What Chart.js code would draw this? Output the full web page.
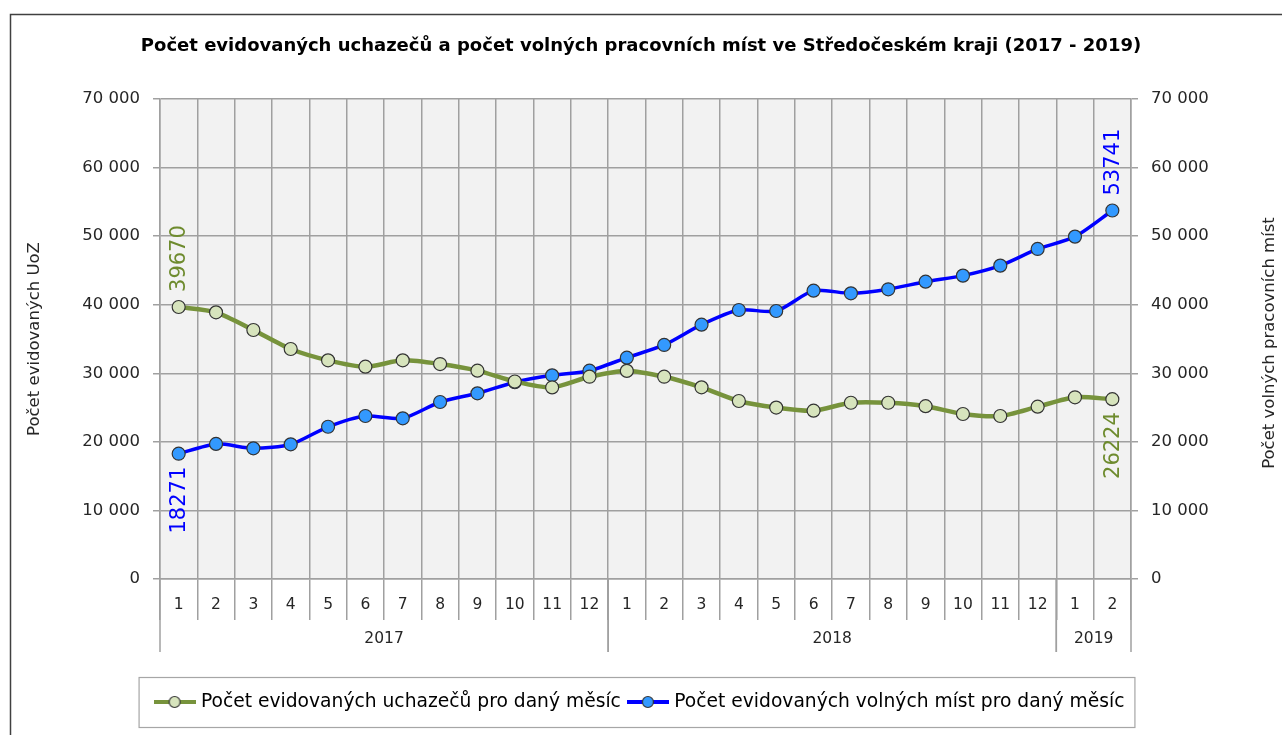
<!DOCTYPE html>
<html>
<head>
<meta charset="utf-8">
<script src="https://cdn.jsdelivr.net/npm/chart.js@4.4.0/dist/chart.umd.min.js"></script>
<style>
  html, body { margin: 0; padding: 0; background: #fff; }
  #wrap { width: 1282px; height: 735px; }
</style>
</head>
<body>
<div id="wrap"><canvas id="myChart" width="1282" height="735"></canvas></div>
<script>
// měsíce a roky (dvouúrovňová osa X)
var months = ['1','2','3','4','5','6','7','8','9','10','11','12',
              '1','2','3','4','5','6','7','8','9','10','11','12',
              '1','2'];
var years = ['2017', '2018', '2019'];
var yearSpans = [12, 12, 2];

// Počet evidovaných uchazečů
var uchazeci = [39670, 38890, 36310, 33540, 31890, 30960, 31890, 31350, 30380, 28800, 27940, 29500,
                30350, 29500, 27950, 25960, 25000, 24550, 25700, 25700, 25200, 24060, 23770, 25130,
                26500, 26224];
// Počet volných pracovních míst
var volnaMista = [18271, 19700, 19060, 19640, 22200, 23770, 23430, 25810, 27080, 28690, 29700, 30380,
                  32280, 34130, 37090, 39230, 39080, 42050, 41660, 42250, 43360, 44240, 45700, 48130,
                  49930, 53741];

var yTicks = [0, 10000, 20000, 30000, 40000, 50000, 60000, 70000];

var colorSet = {
	olive: '#77933c',
	oliveText: '#6e8b2e',
	oliveFill: '#d7e4bd',
	blue: '#0000ff',
	blueFill: '#3399ff',
	grid: '#a0a0a0',
	text: '#262626'
};

Chart.defaults.font.family = '"DejaVu Sans", Verdana, sans-serif';
Chart.defaults.color = colorSet.text;

function fmt(v) {
	return String(v).replace(/\B(?=(\d{3})+(?!\d))/g, ' ');
}

// značka do legendy: čára s kolečkem
function makeMarker(lineColor, fill) {
	var c = document.createElement('canvas');
	c.width = 42; c.height = 14;
	var g = c.getContext('2d');
	g.strokeStyle = lineColor;
	g.lineWidth = 4;
	g.beginPath(); g.moveTo(0, 7); g.lineTo(42, 7); g.stroke();
	g.beginPath(); g.arc(21, 7, 5.5, 0, Math.PI * 2);
	g.fillStyle = fill; g.fill();
	g.lineWidth = 1.2; g.strokeStyle = '#333'; g.stroke();
	return c;
}
var markers = [makeMarker(colorSet.olive, colorSet.oliveFill), makeMarker(colorSet.blue, colorSet.blueFill)];

var legendFont = 18.7;

// popisky krajních hodnot
var endLabels = [
	{ ds: 0, idx: 0, up: true, color: colorSet.oliveText },
	{ ds: 1, idx: 0, up: false, color: colorSet.blue },
	{ ds: 1, idx: volnaMista.length - 1, up: true, color: colorSet.blue },
	{ ds: 0, idx: uchazeci.length - 1, up: false, color: colorSet.oliveText }
];

var decorPlugin = {
	id: 'decor',
	beforeDraw: function(chart) {
		var ctx = chart.ctx, a = chart.chartArea;
		ctx.save();
		ctx.fillStyle = '#fff';
		ctx.fillRect(0, 0, chart.width, chart.height);
		ctx.strokeStyle = '#404040';
		ctx.lineWidth = 1.5;
		ctx.strokeRect(10.5, 14.5, 1400, 900);
		ctx.fillStyle = '#f2f2f2';
		ctx.fillRect(a.left, a.top, a.right - a.left, a.bottom - a.top);
		ctx.restore();
	},
	afterDraw: function(chart) {
		var ctx = chart.ctx, a = chart.chartArea, x = chart.scales.x;
		ctx.save();
		// roky pod osou
		ctx.strokeStyle = colorSet.grid;
		ctx.lineWidth = 1.5;
		ctx.fillStyle = colorSet.text;
		ctx.font = '15.5px "DejaVu Sans"';
		ctx.textAlign = 'center';
		ctx.textBaseline = 'middle';
		var start = 0;
		for (var i = 0; i < years.length; i++) {
			var end = start + yearSpans[i] - 1;
			var l = start === 0 ? a.left : (x.getPixelForValue(start - 1) + x.getPixelForValue(start)) / 2;
			var r = end === months.length - 1 ? a.right : (x.getPixelForValue(end) + x.getPixelForValue(end + 1)) / 2;
			ctx.beginPath(); ctx.moveTo(l, a.bottom); ctx.lineTo(l, a.bottom + 73); ctx.stroke();
			ctx.beginPath(); ctx.moveTo(r, a.bottom); ctx.lineTo(r, a.bottom + 73); ctx.stroke();
			ctx.fillText(years[i], (l + r) / 2, a.bottom + 60);
			start = end + 1;
		}
		// název pravé osy (čte se zdola nahoru)
		ctx.font = '16.5px "DejaVu Sans"';
		ctx.save();
		ctx.translate(1270, (a.top + a.bottom) / 2 + 4);
		ctx.rotate(-Math.PI / 2);
		ctx.fillText('Počet volných pracovních míst', 0, 0);
		ctx.restore();
		// rámeček legendy
		var hb = chart.legend.legendHitBoxes;
		if (hb && hb.length) {
			var last = hb[hb.length - 1];
			ctx.strokeStyle = '#a6a6a6';
			ctx.lineWidth = 1.2;
			var bx = hb[0].left - 19;
			var by = chart.legend.top + 10 + legendFont / 2 - 25;
			ctx.strokeRect(bx + 0.5, by + 0.5, last.left + last.width + 10 - bx, 50);
		}
		ctx.restore();
	},
	afterDatasetsDraw: function(chart) {
		var ctx = chart.ctx;
		ctx.save();
		ctx.font = '21px "DejaVu Sans"';
		ctx.textBaseline = 'middle';
		endLabels.forEach(function(lb) {
			var pt = chart.getDatasetMeta(lb.ds).data[lb.idx];
			var val = chart.data.datasets[lb.ds].data[lb.idx];
			ctx.save();
			ctx.translate(pt.x, pt.y);
			ctx.rotate(-Math.PI / 2);
			ctx.fillStyle = lb.color;
			if (lb.up) {
				ctx.textAlign = 'left';
				ctx.fillText(String(val), 15, 1);
			} else {
				ctx.textAlign = 'right';
				ctx.fillText(String(val), -13, 1);
			}
			ctx.restore();
		});
		ctx.restore();
	}
};

var ctx = document.getElementById('myChart').getContext('2d');
var myChart = new Chart(ctx, {
	type: 'line',
	data: {
		labels: months,
		datasets: [
			{
				label: 'Počet evidovaných uchazečů pro daný měsíc',
				data: uchazeci,
				yAxisID: 'y',
				borderColor: colorSet.olive,
				borderWidth: 4.5,
				backgroundColor: colorSet.oliveFill,
				pointBackgroundColor: colorSet.oliveFill,
				pointBorderColor: '#333',
				pointBorderWidth: 1.2,
				pointRadius: 6.5,
				tension: 0.25
			},
			{
				label: 'Počet evidovaných volných míst pro daný měsíc',
				data: volnaMista,
				yAxisID: 'y2',
				borderColor: colorSet.blue,
				borderWidth: 3.5,
				backgroundColor: colorSet.blueFill,
				pointBackgroundColor: colorSet.blueFill,
				pointBorderColor: '#333',
				pointBorderWidth: 1.2,
				pointRadius: 6.5,
				tension: 0.25
			}
		]
	},
	options: {
		responsive: false,
		animation: false,
		layout: { padding: { left: 0, right: 0, top: 0, bottom: 13.65 } },
		plugins: {
			title: {
				display: true,
				text: 'Počet evidovaných uchazečů a počet volných pracovních míst ve Středočeském kraji (2017 - 2019)',
				font: { size: 18, weight: 'bold' },
				color: '#000',
				padding: { top: 35.2, bottom: 42.2 }
			},
			legend: {
				position: 'bottom',
				labels: {
					usePointStyle: true,
					pointStyleWidth: 34,
					padding: 10,
					color: '#000',
					font: { size: legendFont },
					generateLabels: function(chart) {
						var items = Chart.defaults.plugins.legend.labels.generateLabels(chart);
						items.forEach(function(it, i) { it.pointStyle = markers[i]; });
						return items;
					}
				}
			},
			tooltip: { enabled: false }
		},
		scales: {
			x: {
				offset: true,
				grid: { offset: true, color: colorSet.grid, lineWidth: 1.5, tickLength: 41 },
				border: { color: colorSet.grid, width: 1.5 },
				ticks: { padding: -24, font: { size: 15.5 }, color: colorSet.text, maxRotation: 0, autoSkip: false },
				afterFit: function(s) { s.height = 103.65; }
			},
			y: {
				position: 'left',
				min: 0, max: 70000,
				afterBuildTicks: function(s) { s.ticks = yTicks.map(function(v) { return { value: v }; }); },
				grid: { color: colorSet.grid, lineWidth: 1.5, tickLength: 7 },
				border: { color: colorSet.grid, width: 1.5 },
				ticks: { padding: 13, font: { size: 16.5 }, color: colorSet.text, callback: function(v) { return fmt(v); } },
				title: { display: true, text: 'Počet evidovaných UoZ', font: { size: 16.5 }, color: colorSet.text, padding: { top: 25 } },
				afterFit: function(s) { s.width = 160; }
			},
			y2: {
				position: 'right',
				min: 0, max: 70000,
				afterBuildTicks: function(s) { s.ticks = yTicks.map(function(v) { return { value: v }; }); },
				grid: { drawOnChartArea: false, color: colorSet.grid, lineWidth: 1.5, tickLength: 7 },
				border: { color: colorSet.grid, width: 1.5 },
				ticks: { padding: 13, font: { size: 16.5 }, color: colorSet.text, callback: function(v) { return fmt(v); } },
				afterFit: function(s) { s.width = 151; }
			}
		}
	},
	plugins: [decorPlugin]
});
</script>
</body>
</html>
